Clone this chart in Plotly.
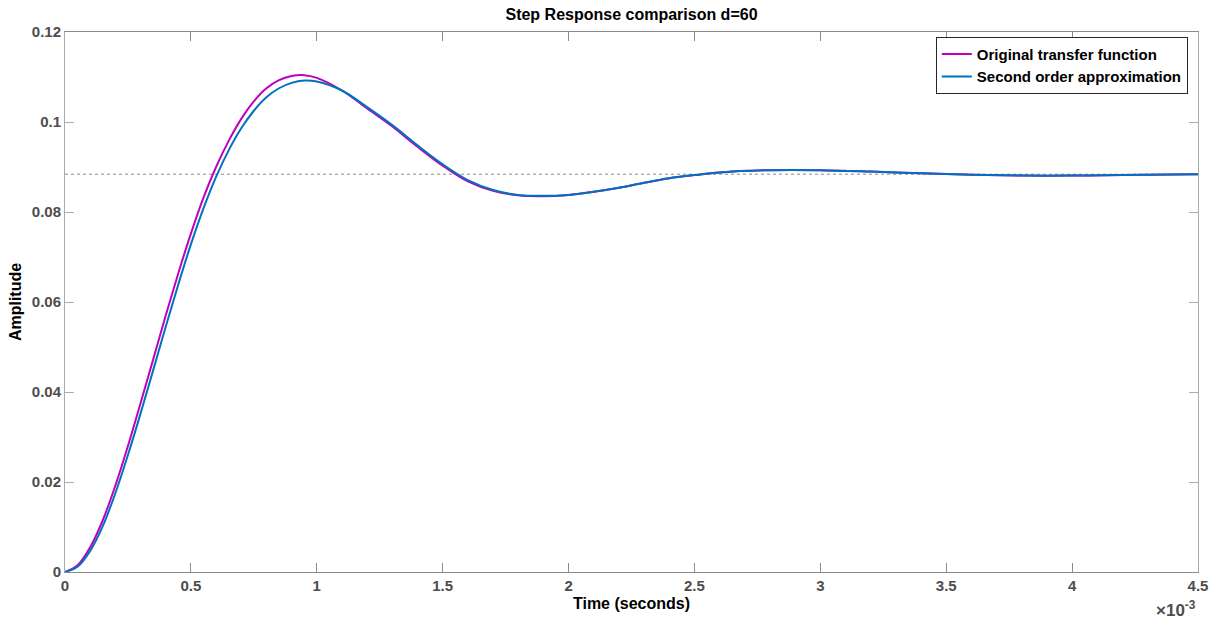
import plotly.graph_objects as go

# time in milliseconds (axis shows x10^-3 seconds)
t_ms = [0, 0.05, 0.1, 0.15, 0.2, 0.25, 0.3, 0.35, 0.4, 0.45, 0.5, 0.55, 0.6, 0.65, 0.7,
        0.75, 0.8, 0.85, 0.9, 0.95, 1.0, 1.1, 1.2, 1.3, 1.4, 1.5, 1.6, 1.7, 1.8, 1.9,
        2.0, 2.1, 2.2, 2.3, 2.4, 2.5, 2.6, 2.8, 3.0, 3.2, 3.4, 3.6, 3.8, 4.0, 4.2, 4.5]

original = [0, 0.0015, 0.0055, 0.0115, 0.0192, 0.0280, 0.0375, 0.0472, 0.0570, 0.0664,
            0.0752, 0.0832, 0.0900, 0.0958, 0.1007, 0.1046, 0.1075, 0.1093, 0.1102, 0.1104,
            0.1098, 0.1070, 0.1030, 0.0990, 0.0945, 0.0903, 0.0868, 0.0847, 0.0837, 0.0835,
            0.0838, 0.0845, 0.0854, 0.0865, 0.0875, 0.0882, 0.0888, 0.0893, 0.0893, 0.0890,
            0.0886, 0.0883, 0.0881, 0.0881, 0.0882, 0.0884]

approx = [0, 0.0012, 0.0047, 0.0102, 0.0175, 0.0260, 0.0352, 0.0448, 0.0545, 0.0639,
          0.0728, 0.0808, 0.0878, 0.0937, 0.0986, 0.1025, 0.1055, 0.1075, 0.1087, 0.1092,
          0.1090, 0.1070, 0.1033, 0.0993, 0.0948, 0.0906, 0.0871, 0.0849, 0.0838, 0.0836,
          0.0838, 0.0845, 0.0854, 0.0865, 0.0875, 0.0882, 0.0888, 0.0893, 0.0893, 0.0890,
          0.0886, 0.0883, 0.0881, 0.0881, 0.0882, 0.0884]

steady_state = 0.0884

x_ticks = [0, 0.5, 1, 1.5, 2, 2.5, 3, 3.5, 4, 4.5]
x_labels = ["0", "0.5", "1", "1.5", "2", "2.5", "3", "3.5", "4", "4.5"]
y_ticks = [0, 0.02, 0.04, 0.06, 0.08, 0.1, 0.12]
y_labels = ["0", "0.02", "0.04", "0.06", "0.08", "0.1", "0.12"]

FONT = "Liberation Sans, Arial, sans-serif"

fig = go.Figure()
fig.add_trace(go.Scatter(x=[t_ms[0], t_ms[-1]], y=[steady_state, steady_state], mode="lines",
                         line=dict(color="#8a8a8a", width=1, dash="dot"),
                         showlegend=False, hoverinfo="skip"))
fig.add_trace(go.Scatter(x=t_ms, y=original, mode="lines", name="Original transfer function",
                         line=dict(color="#BF00BF", width=2, shape="spline")))
fig.add_trace(go.Scatter(x=t_ms, y=approx, mode="lines", name="Second order approximation",
                         line=dict(color="#0072BD", width=2, shape="spline")))

fig.update_layout(
    width=1222, height=620,
    margin=dict(l=65, r=24, t=32, b=48),
    paper_bgcolor="white", plot_bgcolor="white",
    title=dict(text="Step Response comparison d=60", x=(65 + 1198) / 2 / 1222, xanchor="center",
               y=1 - 14 / 620, yanchor="middle",
               font=dict(family=FONT, size=16, color="black", weight="bold")),
    legend=dict(x=0.991, y=0.991, xanchor="right", yanchor="top",
                bgcolor="white", bordercolor="#262626", borderwidth=1,
                font=dict(family=FONT, size=15, color="black", weight="bold"),
                itemwidth=30, tracegroupgap=0),
    showlegend=True,
)
fig.update_xaxes(range=[0, 4.5], tickvals=x_ticks, ticktext=x_labels,
                 showgrid=False, zeroline=False, showline=True, linecolor="#8c8c8c", linewidth=1,
                 mirror="ticks", ticks="inside", ticklen=9, tickcolor="#8c8c8c",
                 tickfont=dict(family=FONT, size=15, color="#4d4d4d", weight="bold"),
                 title=dict(text="Time (seconds)", standoff=4,
                            font=dict(family=FONT, size=16, color="black", weight="bold")))
fig.update_yaxes(range=[0, 0.12], tickvals=y_ticks, ticktext=y_labels,
                 showgrid=False, zeroline=False, showline=True, linecolor="#ababab", linewidth=1,
                 mirror="ticks", ticks="inside", ticklen=9, tickcolor="#ababab",
                 tickfont=dict(family=FONT, size=15, color="#4d4d4d", weight="bold"),
                 title=dict(text="Amplitude", standoff=6,
                            font=dict(family=FONT, size=16, color="black", weight="bold")))
fig.add_annotation(text="×10<sup>-3</sup>", xref="paper", yref="paper", x=1.0, y=-0.068,
                   xanchor="right", yanchor="middle", showarrow=False,
                   font=dict(family=FONT, size=17, color="#4d4d4d", weight="bold"))

fig.write_html("out.html")
